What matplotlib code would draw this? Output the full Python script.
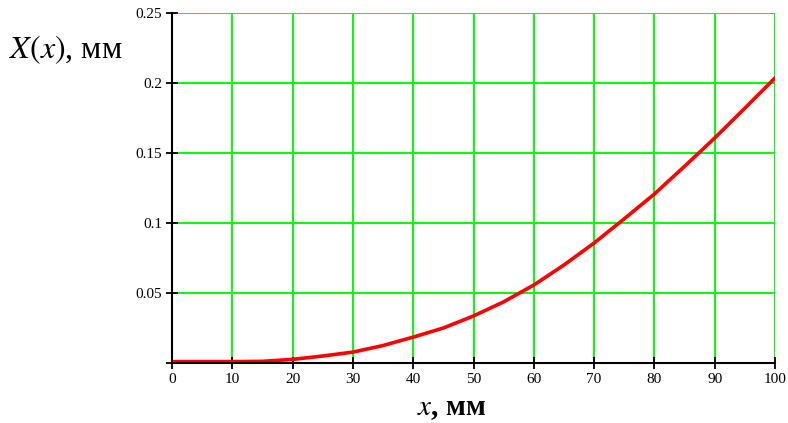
import matplotlib
matplotlib.use("Agg")
import matplotlib.pyplot as plt
import numpy as np

# values
x_mm = [0, 5, 10, 15, 20, 25, 30, 35, 40, 45, 50,
        55, 60, 65, 70, 75, 80, 85, 90, 95, 100]
X_mm = [0.001, 0.001, 0.001, 0.0012, 0.0026, 0.005, 0.0078, 0.0125, 0.0185, 0.025, 0.0336,
        0.0437, 0.0557, 0.07, 0.0857, 0.103, 0.1207, 0.1405, 0.1607, 0.182, 0.2036]

x_ticks = [0, 10, 20, 30, 40, 50, 60, 70, 80, 90, 100]
y_ticks = [0, 0.05, 0.1, 0.15, 0.2, 0.25]
y_labels = ["", "0.05", "0.1", "0.15", "0.2", "0.25"]

plt.rcParams["font.family"] = ["Liberation Serif", "DejaVu Serif"]

fig = plt.figure(figsize=(7.88, 4.23), dpi=100)
ax = fig.add_axes([0.2183, 0.1418, 0.7652, 0.8275])

ax.plot(x_mm, X_mm, color="#ff0000", lw=2.6, zorder=3)

ax.set_xlim(0, 100)
ax.set_ylim(0, 0.25)
ax.set_xticks(x_ticks)
ax.set_yticks(y_ticks)
ax.set_yticklabels(y_labels)
ax.grid(True, color="#00ff00", lw=1.4)
ax.set_axisbelow(True)

for s in ["top", "right"]:
    ax.spines[s].set_visible(False)
for s in ["left", "bottom"]:
    ax.spines[s].set_color("black")
    ax.spines[s].set_linewidth(1.5)
    ax.spines[s].set_zorder(4)

ax.tick_params(direction="inout", length=8, width=1.3, labelsize=11, pad=3)

fig.text(0.012, 0.882, r"$X(x)$, мм", fontsize=23, ha="left", va="center",
         math_fontfamily="stix")
fig.text(0.573, 0.035, r"$x$, мм", fontsize=21, ha="center", va="center",
         fontweight="bold", math_fontfamily="stix")

fig.savefig("out.png", dpi=100)
